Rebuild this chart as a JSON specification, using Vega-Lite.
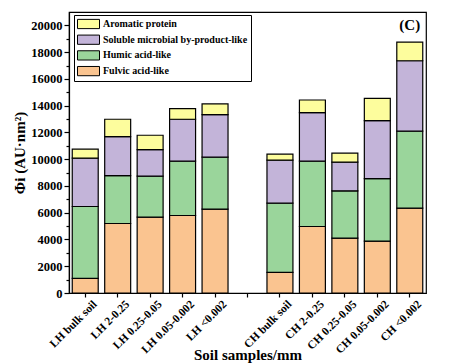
{
  "$schema": "https://vega.github.io/schema/vega-lite/v6.json",
  "width": 357,
  "height": 281,
  "autosize": {"type": "none"},
  "padding": {"left": 69, "top": 12, "right": 24, "bottom": 70},
  "config": {
    "font": "Liberation Serif",
    "view": {"stroke": "black", "strokeWidth": 1.2},
    "axis": {"labelFont": "Liberation Serif", "titleFont": "Liberation Serif", "labelFontWeight": "bold", "titleFontWeight": "bold", "labelColor": "black", "titleColor": "black", "domainColor": "black", "tickColor": "black", "domainWidth": 1.2, "tickWidth": 1.2, "grid": false}
  },
  "datasets": {
    "bars": [
      {"sample": "LH bulk soil", "component": "Fulvic acid-like", "rank": 1, "value": 1090},
      {"sample": "LH bulk soil", "component": "Humic acid-like", "rank": 2, "value": 5373},
      {"sample": "LH bulk soil", "component": "Soluble microbial by-product-like", "rank": 3, "value": 3612},
      {"sample": "LH bulk soil", "component": "Aromatic protein", "rank": 4, "value": 671},
      {"sample": "LH 2-0.25", "component": "Fulvic acid-like", "rank": 1, "value": 5194},
      {"sample": "LH 2-0.25", "component": "Humic acid-like", "rank": 2, "value": 3582},
      {"sample": "LH 2-0.25", "component": "Soluble microbial by-product-like", "rank": 3, "value": 2911},
      {"sample": "LH 2-0.25", "component": "Aromatic protein", "rank": 4, "value": 1298},
      {"sample": "LH 0.25-0.05", "component": "Fulvic acid-like", "rank": 1, "value": 5672},
      {"sample": "LH 0.25-0.05", "component": "Humic acid-like", "rank": 2, "value": 3059},
      {"sample": "LH 0.25-0.05", "component": "Soluble microbial by-product-like", "rank": 3, "value": 1985},
      {"sample": "LH 0.25-0.05", "component": "Aromatic protein", "rank": 4, "value": 1075},
      {"sample": "LH 0.05-0.002", "component": "Fulvic acid-like", "rank": 1, "value": 5791},
      {"sample": "LH 0.05-0.002", "component": "Humic acid-like", "rank": 2, "value": 4060},
      {"sample": "LH 0.05-0.002", "component": "Soluble microbial by-product-like", "rank": 3, "value": 3134},
      {"sample": "LH 0.05-0.002", "component": "Aromatic protein", "rank": 4, "value": 791},
      {"sample": "LH <0.002", "component": "Fulvic acid-like", "rank": 1, "value": 6269},
      {"sample": "LH <0.002", "component": "Humic acid-like", "rank": 2, "value": 3880},
      {"sample": "LH <0.002", "component": "Soluble microbial by-product-like", "rank": 3, "value": 3179},
      {"sample": "LH <0.002", "component": "Aromatic protein", "rank": 4, "value": 799},
      {"sample": "CH bulk soil", "component": "Fulvic acid-like", "rank": 1, "value": 1537},
      {"sample": "CH bulk soil", "component": "Humic acid-like", "rank": 2, "value": 5179},
      {"sample": "CH bulk soil", "component": "Soluble microbial by-product-like", "rank": 3, "value": 3209},
      {"sample": "CH bulk soil", "component": "Aromatic protein", "rank": 4, "value": 448},
      {"sample": "CH 2-0.25", "component": "Fulvic acid-like", "rank": 1, "value": 4970},
      {"sample": "CH 2-0.25", "component": "Humic acid-like", "rank": 2, "value": 4881},
      {"sample": "CH 2-0.25", "component": "Soluble microbial by-product-like", "rank": 3, "value": 3627},
      {"sample": "CH 2-0.25", "component": "Aromatic protein", "rank": 4, "value": 947},
      {"sample": "CH 0.25-0.05", "component": "Fulvic acid-like", "rank": 1, "value": 4104},
      {"sample": "CH 0.25-0.05", "component": "Humic acid-like", "rank": 2, "value": 3530},
      {"sample": "CH 0.25-0.05", "component": "Soluble microbial by-product-like", "rank": 3, "value": 2142},
      {"sample": "CH 0.25-0.05", "component": "Aromatic protein", "rank": 4, "value": 672},
      {"sample": "CH 0.05-0.002", "component": "Fulvic acid-like", "rank": 1, "value": 3881},
      {"sample": "CH 0.05-0.002", "component": "Humic acid-like", "rank": 2, "value": 4671},
      {"sample": "CH 0.05-0.002", "component": "Soluble microbial by-product-like", "rank": 3, "value": 4329},
      {"sample": "CH 0.05-0.002", "component": "Aromatic protein", "rank": 4, "value": 1671},
      {"sample": "CH <0.002", "component": "Fulvic acid-like", "rank": 1, "value": 6343},
      {"sample": "CH <0.002", "component": "Humic acid-like", "rank": 2, "value": 5747},
      {"sample": "CH <0.002", "component": "Soluble microbial by-product-like", "rank": 3, "value": 5268},
      {"sample": "CH <0.002", "component": "Aromatic protein", "rank": 4, "value": 1396}
    ],
    "tag": [{"sample": "CH <0.002", "value": 20000, "label": "(C)"}]
  },
  "encoding": {
    "x": {
      "field": "sample", "type": "nominal",
      "scale": {"domain": ["LH bulk soil", "LH 2-0.25", "LH 0.25-0.05", "LH 0.05-0.002", "LH <0.002", "gap", "CH bulk soil", "CH 2-0.25", "CH 0.25-0.05", "CH 0.05-0.002", "CH <0.002"], "paddingInner": 0.2, "paddingOuter": 0.1},
      "axis": {"title": "Soil samples/mm", "titleFontSize": 15, "titlePadding": -8, "labelAngle": -45, "labelAlign": "right", "labelBaseline": "top", "labelFontSize": 11.5, "labelPadding": 1, "labelOffset": 6, "tickSize": 4, "labelExpr": "datum.value === 'gap' ? '' : datum.label"}
    },
    "y": {
      "field": "value", "type": "quantitative",
      "scale": {"domain": [0, 21000], "nice": false},
      "axis": {"title": "Φi (AU·nm²)", "titleFontSize": 15, "titlePadding": 3, "labelFontSize": 12.5, "labelPadding": 2, "format": "d",
        "values": [0, 1000, 2000, 3000, 4000, 5000, 6000, 7000, 8000, 9000, 10000, 11000, 12000, 13000, 14000, 15000, 16000, 17000, 18000, 19000, 20000],
        "labelExpr": "datum.value % 2000 === 0 ? datum.label : ''",
        "tickSize": {"condition": {"test": "datum.value % 2000 === 0", "value": 5}, "value": 3}}
    }
  },
  "layer": [
    {
      "data": {"name": "bars"},
      "mark": {"type": "bar", "stroke": "black", "strokeWidth": 1.2},
      "encoding": {
        "y": {"field": "value", "type": "quantitative", "stack": "zero"},
        "color": {
          "field": "component", "type": "nominal",
          "scale": {"domain": ["Aromatic protein", "Soluble microbial by-product-like", "Humic acid-like", "Fulvic acid-like"], "range": ["#FDFD9D", "#C3B4D9", "#9AD59B", "#FAC490"]},
          "legend": {"title": null, "orient": "none", "legendX": 5, "legendY": 3, "direction": "vertical", "strokeColor": "black", "padding": 3, "labelFont": "Liberation Serif", "labelFontWeight": "bold", "labelFontSize": 10, "labelColor": "black", "symbolType": "M-1,-0.84L3,-0.84L3,0.84L-1,0.84Z", "symbolSize": 121, "symbolStrokeColor": "black", "symbolStrokeWidth": 1, "symbolOpacity": 1, "rowPadding": 1.7, "labelOffset": 14}
        },
        "order": {"field": "rank", "type": "quantitative", "sort": "ascending"}
      }
    },
    {
      "data": {"name": "tag"},
      "mark": {"type": "text", "fontWeight": "bold", "fontSize": 15, "font": "Liberation Serif", "color": "black"},
      "encoding": {"text": {"field": "label"}}
    }
  ]
}
